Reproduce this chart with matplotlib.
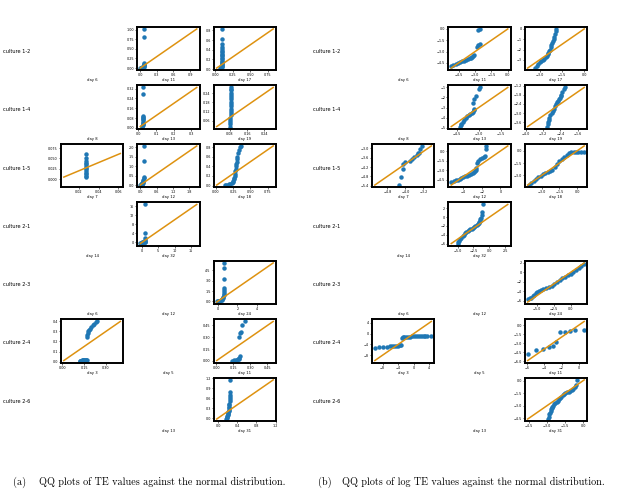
import matplotlib
matplotlib.use('Agg')
import matplotlib.pyplot as plt
from matplotlib.ticker import MaxNLocator

# Названия культур (строки) и дни (колонки) для обеих панелей
cultures = ['culture 1-2', 'culture 1-4', 'culture 1-5', 'culture 2-1',
            'culture 2-3', 'culture 2-4', 'culture 2-6']
day_labels = [['day 6', 'day 11', 'day 17'],
              ['day 8', 'day 13', 'day 19'],
              ['day 7', 'day 12', 'day 18'],
              ['day 14', 'day 32', None],
              ['day 6', 'day 12', 'day 24'],
              ['day 3', 'day 5', 'day 11'],
              [None, 'day 13', 'day 31']]

# ---- (a) TE values: theoretical (x) vs sample (y) quantiles ----
te_12_d11_x = [0.00, 0.01, 0.02, 0.03, 0.04, 0.05, 0.06, 0.06, 0.07, 0.07, 0.07, 0.07, 0.07, 0.07]
te_12_d11_y = [0.00, 0.00, 0.01, 0.01, 0.02, 0.02, 0.03, 0.05, 0.07, 0.09, 0.11, 0.13, 0.80, 1.02]

te_12_d17_x = [0.07, 0.08, 0.08, 0.09, 0.09, 0.09, 0.09, 0.09, 0.09, 0.09, 0.09, 0.09, 0.09, 0.09,
               0.09, 0.09, 0.09, 0.09, 0.09, 0.09, 0.09, 0.09]
te_12_d17_y = [0.02, 0.03, 0.04, 0.05, 0.07, 0.09, 0.11, 0.13, 0.15, 0.17, 0.20, 0.23, 0.26, 0.29,
               0.32, 0.35, 0.38, 0.42, 0.46, 0.52, 0.63, 0.83]

te_14_d13_x = [0.020, 0.022, 0.024, 0.025, 0.025, 0.025, 0.025, 0.025, 0.025, 0.025, 0.025, 0.025, 0.025]
te_14_d13_y = [0.010, 0.015, 0.020, 0.030, 0.040, 0.050, 0.060, 0.070, 0.080, 0.090, 0.100, 0.280, 0.330]

te_14_d19_x = [0.082, 0.082, 0.083, 0.083, 0.083, 0.084, 0.084, 0.084, 0.085, 0.085, 0.085, 0.086,
               0.086, 0.086, 0.087, 0.087, 0.087, 0.088, 0.088]
te_14_d19_y = [0.020, 0.035, 0.050, 0.065, 0.080, 0.095, 0.110, 0.125, 0.140, 0.155, 0.170, 0.185,
               0.200, 0.215, 0.230, 0.245, 0.260, 0.270, 0.280]

te_15_d7_x = [0.027, 0.027, 0.027, 0.027, 0.027, 0.027, 0.027, 0.027, 0.027, 0.027, 0.027, 0.027, 0.027]
te_15_d7_y = [0.005, 0.008, 0.012, 0.016, 0.020, 0.024, 0.028, 0.032, 0.036, 0.038, 0.045, 0.052, 0.062]

te_15_d12_x = [0.00, 0.01, 0.02, 0.03, 0.04, 0.05, 0.06, 0.07, 0.08, 0.09, 0.10, 0.11, 0.11, 0.12,
               0.12, 0.12, 0.12]
te_15_d12_y = [0.00, 0.00, 0.01, 0.02, 0.03, 0.04, 0.05, 0.07, 0.09, 0.12, 0.16, 0.20, 0.27, 0.35,
               0.45, 1.27, 2.08]

te_15_d18_x = [0.13, 0.15, 0.17, 0.19, 0.21, 0.23, 0.24, 0.25, 0.26, 0.265, 0.27, 0.275, 0.28,
               0.285, 0.29, 0.295, 0.30, 0.305, 0.31, 0.32, 0.33, 0.35, 0.37]
te_15_d18_y = [0.01, 0.015, 0.02, 0.03, 0.04, 0.06, 0.08, 0.10, 0.13, 0.16, 0.20, 0.25, 0.30,
               0.35, 0.40, 0.45, 0.50, 0.55, 0.60, 0.68, 0.75, 0.80, 0.83]

te_21_d32_x = [-0.5, -0.3, 0.0, 0.2, 0.4, 0.6, 0.8, 0.9, 1.0, 1.0, 1.0, 1.0, 1.0]
te_21_d32_y = [-0.3, -0.1, 0.0, 0.0, 0.05, 0.1, 0.2, 0.4, 0.7, 1.2, 1.8, 4.0, 16.8]

te_23_d24_x = [-0.1, 0.0, 0.1, 0.2, 0.3, 0.4, 0.45, 0.5, 0.55, 0.6, 0.6, 0.62, 0.64, 0.65, 0.6, 0.62, 0.65]
te_23_d24_y = [0.0, 0.0, 0.05, 0.1, 0.15, 0.2, 0.35, 0.5, 0.7, 0.9, 1.1, 1.4, 1.7, 2.0, 3.3, 4.8, 5.6]

te_24_d3_x = [0.12, 0.125, 0.13, 0.135, 0.14, 0.145, 0.15, 0.155, 0.16, 0.165, 0.17,
              0.17, 0.172, 0.175, 0.18, 0.185, 0.19, 0.20, 0.21, 0.22, 0.23, 0.24]
te_24_d3_y = [0.010, 0.010, 0.010, 0.011, 0.011, 0.012, 0.012, 0.013, 0.013, 0.014, 0.015,
              0.24, 0.26, 0.28, 0.30, 0.31, 0.32, 0.34, 0.36, 0.37, 0.39, 0.40]

te_24_d11_x = [0.14, 0.16, 0.17, 0.18, 0.19, 0.20, 0.20, 0.21, 0.20, 0.21, 0.22, 0.23, 0.25]
te_24_d11_y = [0.005, 0.01, 0.012, 0.015, 0.02, 0.03, 0.04, 0.06, 0.30, 0.35, 0.37, 0.46, 0.50]

te_26_d31_x = [0.17, 0.18, 0.19, 0.195, 0.20, 0.205, 0.21, 0.215, 0.22, 0.22, 0.225, 0.23, 0.23,
               0.235, 0.24, 0.24, 0.245, 0.25, 0.25, 0.25]
te_26_d31_y = [-0.03, 0.00, 0.03, 0.06, 0.09, 0.12, 0.15, 0.18, 0.21, 0.25, 0.29, 0.33, 0.38,
               0.43, 0.50, 0.56, 0.63, 0.70, 0.78, 1.15]

# ---- (b) log TE values ----
log_12_d11_x = [-5.2, -5.0, -4.8, -4.6, -4.4, -4.2, -4.0, -3.8, -3.7, -3.5, -3.4, -3.3, -3.2, -3.1,
                -2.8, -2.7, -2.6, -2.7, -2.6]
log_12_d11_y = [-4.9, -4.8, -4.7, -4.55, -4.4, -4.3, -4.2, -4.1, -4.0, -3.9, -3.8, -3.7, -3.6, -3.4,
                -2.4, -2.2, -2.0, -0.2, 0.0]

log_12_d17_x = [-3.3, -3.2, -3.1, -3.0, -2.9, -2.8, -2.7, -2.6, -2.5, -2.45, -2.4, -2.35, -2.3,
                -2.25, -2.2, -2.15, -2.1, -2.05, -2.0, -1.95, -1.9, -1.88]
log_12_d17_y = [-3.8, -3.6, -3.4, -3.25, -3.1, -3.0, -2.9, -2.75, -2.6, -2.45, -2.3, -2.15, -2.0,
                -1.8, -1.6, -1.4, -1.2, -1.0, -0.8, -0.5, -0.2, 0.0]

log_14_d13_x = [-4.3, -4.25, -4.2, -4.1, -4.0, -3.9, -3.8, -3.7, -3.6, -3.5, -3.4, -3.35, -3.3,
                -3.4, -3.3, -3.2, -3.0, -2.95]
log_14_d13_y = [-4.9, -4.75, -4.6, -4.4, -4.2, -4.0, -3.85, -3.7, -3.6, -3.5, -3.4, -3.25, -3.1,
                -2.6, -2.2, -1.9, -1.2, -1.0]

log_14_d19_x = [-3.0, -2.97, -2.95, -2.92, -2.9, -2.85, -2.8, -2.75, -2.7, -2.65, -2.6, -2.55,
                -2.5, -2.45, -2.4, -2.37, -2.35, -2.3, -2.25, -2.2]
log_14_d19_y = [-3.9, -3.75, -3.6, -3.45, -3.3, -3.15, -3.0, -2.85, -2.7, -2.55, -2.4, -2.3,
                -2.2, -2.1, -2.0, -1.9, -1.8, -1.6, -1.4, -1.3]

log_15_d7_x = [-4.3, -4.2, -4.1, -4.1, -4.0, -3.8, -3.7, -3.6, -3.5, -3.45, -3.4, -3.35, -3.25]
log_15_d7_y = [-5.35, -4.85, -4.3, -4.0, -3.9, -3.8, -3.7, -3.55, -3.4, -3.3, -3.3, -3.05, -2.85]

log_15_d12_x = [-5.3, -5.0, -4.8, -4.6, -4.4, -4.2, -4.0, -3.8, -3.6, -3.4, -3.2, -3.0, -2.8,
                -2.7, -2.6, -2.6, -2.55, -2.4, -2.2, -2.0, -1.8, -1.7, -1.6, -1.5]
log_15_d12_y = [-4.8, -4.65, -4.55, -4.45, -4.35, -4.2, -4.1, -3.95, -3.85, -3.7, -3.55, -3.4, -3.2,
                -3.1, -2.9, -2.6, -1.8, -1.5, -1.3, -1.1, -0.9, -0.7, 0.4, 0.8]

log_15_d18_x = [-4.1, -3.9, -3.7, -3.5, -3.3, -3.1, -2.9, -2.7, -2.5, -2.3, -2.1, -1.9, -1.7,
                -1.5, -1.3, -1.1, -0.9, -0.7, -0.5, -0.3, -0.1, 0.1, 0.3, 0.6]
log_15_d18_y = [-4.2, -3.95, -3.65, -3.4, -3.25, -3.05, -2.9, -2.75, -2.6, -2.45, -2.3, -2.0, -1.65,
                -1.3, -1.0, -0.75, -0.5, -0.3, -0.15, -0.12, -0.12, -0.12, -0.12, -0.12]

log_21_d32_x = [-5.0, -4.9, -4.8, -4.6, -4.4, -4.2, -4.0, -3.8, -3.6, -3.4, -3.2, -3.0, -2.8,
                -2.6, -2.4, -2.2, -2.0, -1.8, -1.7, -1.6, -1.5, -1.4, -1.3, -1.2, -1.1, -1.05]
log_21_d32_y = [-6.0, -5.7, -5.4, -5.0, -4.7, -4.35, -4.0, -3.7, -3.45, -3.2, -3.0, -2.8, -2.6,
                -2.45, -2.25, -2.05, -1.8, -1.55, -1.3, -1.05, -0.8, -0.5, -0.2, 0.5, 1.2, 2.9]

log_23_d24_x = [-6.3, -6.0, -5.8, -5.5, -5.3, -5.1, -4.9, -4.6, -4.3, -4.0, -3.6, -3.2, -2.8,
                -2.4, -2.0, -1.6, -1.2, -0.8, -0.4, 0.0, 0.4, 0.8, 1.2, 1.6, 2.0]
log_23_d24_y = [-5.6, -5.5, -5.4, -5.1, -4.8, -4.4, -4.1, -3.85, -3.65, -3.5, -3.25, -3.0, -2.8,
                -2.45, -2.05, -1.65, -1.25, -0.9, -0.6, -0.3, 0.1, 0.5, 0.9, 1.3, 1.7]

log_24_d3_x = [-10.0, -9.0, -8.0, -7.0, -6.0, -5.5, -5.0, -4.5, -4.0, -3.5, -3.2,
               -3.0, -2.8, -2.5, -2.0, -1.5, -1.0, -0.5, 0.0, 0.5, 1.0, 1.5, 2.0, 2.5, 3.0, 3.5, 4.5]
log_24_d3_y = [-5.2, -5.0, -4.9, -4.8, -4.7, -4.65, -4.6, -4.55, -4.5, -4.4, -4.3,
               -1.5, -1.3, -1.25, -1.2, -1.15, -1.1, -1.08, -1.05, -1.03, -1.0, -1.0, -1.0, -0.98,
               -0.95, -0.93, -0.9]

log_24_d11_x = [-5.9, -4.9, -4.1, -3.5, -3.0, -2.6, -2.2, -1.6, -1.0, -0.4, 0.6]
log_24_d11_y = [-4.8, -4.2, -4.0, -3.6, -3.5, -2.8, -1.2, -1.1, -1.0, -0.85, -0.75]

log_26_d31_x = [-2.9, -2.85, -2.8, -2.75, -2.7, -2.65, -2.6, -2.55, -2.5, -2.4, -2.3, -2.2, -2.1,
                -2.0, -1.9, -1.8, -1.7, -1.6, -1.5, -1.35, -1.2, -1.05, -0.9, -0.8, -0.7, -0.6, -0.5]
log_26_d31_y = [-4.6, -4.3, -4.05, -3.85, -3.65, -3.45, -3.3, -3.15, -3.0, -2.85, -2.7, -2.55, -2.4,
                -2.25, -2.05, -1.9, -1.75, -1.6, -1.5, -1.4, -1.3, -1.2, -1.1, -0.95, -0.8, -0.5, 0.1]

te_data = {(0, 1): (te_12_d11_x, te_12_d11_y), (0, 2): (te_12_d17_x, te_12_d17_y),
           (1, 1): (te_14_d13_x, te_14_d13_y), (1, 2): (te_14_d19_x, te_14_d19_y),
           (2, 0): (te_15_d7_x, te_15_d7_y), (2, 1): (te_15_d12_x, te_15_d12_y),
           (2, 2): (te_15_d18_x, te_15_d18_y), (3, 1): (te_21_d32_x, te_21_d32_y),
           (4, 2): (te_23_d24_x, te_23_d24_y), (5, 0): (te_24_d3_x, te_24_d3_y),
           (5, 2): (te_24_d11_x, te_24_d11_y), (6, 2): (te_26_d31_x, te_26_d31_y)}
log_data = {(0, 1): (log_12_d11_x, log_12_d11_y), (0, 2): (log_12_d17_x, log_12_d17_y),
            (1, 1): (log_14_d13_x, log_14_d13_y), (1, 2): (log_14_d19_x, log_14_d19_y),
            (2, 0): (log_15_d7_x, log_15_d7_y), (2, 1): (log_15_d12_x, log_15_d12_y),
            (2, 2): (log_15_d18_x, log_15_d18_y), (3, 1): (log_21_d32_x, log_21_d32_y),
            (4, 2): (log_23_d24_x, log_23_d24_y), (5, 0): (log_24_d3_x, log_24_d3_y),
            (5, 2): (log_24_d11_x, log_24_d11_y), (6, 2): (log_26_d31_x, log_26_d31_y)}
# в оригинале у графика day 7 (a) по оси y свой диапазон
te_ylims = {(2, 0): (-0.019, 0.085)}

captions = [('(a)', 'QQ plots of TE values against the normal distribution.'),
            ('(b)', 'QQ plots of log TE values against the normal distribution.')]

DOT = '#1f77b4'
LINE = '#de9210'
W, H = 617, 492

fig = plt.figure(figsize=(W / 100, H / 100), dpi=100)


def qq_plot(ax, x, y, ylim=None):
    ax.plot(x, y, '.', color=DOT, ms=4.4, zorder=2)
    lo = min(min(x), min(y))
    hi = max(max(x), max(y))
    ax.plot([lo, hi], [lo, hi], color=LINE, lw=1.1, zorder=3)
    ax.xaxis.set_major_locator(MaxNLocator(nbins=4))
    ax.yaxis.set_major_locator(MaxNLocator(nbins=5))
    if ylim is not None:
        ax.set_ylim(ylim)
    for s in ax.spines.values():
        s.set_linewidth(1.4)


def blank_plot(ax):
    # пустая ячейка: видна только подпись дня
    ax.set_xticks([0.5])
    ax.set_xticklabels(['0'])
    ax.set_yticks([])
    ax.tick_params(axis='x', colors='none')
    for s in ax.spines.values():
        s.set_visible(False)
    ax.patch.set_visible(False)


panels = [(61, 276, 3, te_data, te_ylims), (372, 587, 313, log_data, {})]
for left, right, label_x, data, ylims in panels:
    gs = fig.add_gridspec(7, 3, left=left / W, right=right / W,
                          top=1 - 27 / H, bottom=1 - 421 / H,
                          wspace=0.23, hspace=0.36)
    for r in range(7):
        for c in range(3):
            lab = day_labels[r][c]
            if lab is None:
                continue
            ax = fig.add_subplot(gs[r, c])
            if (r, c) in data:
                x, y = data[(r, c)]
                qq_plot(ax, x, y, ylims.get((r, c)))
            else:
                blank_plot(ax)
            ax.tick_params(labelsize=2.4, length=1.5, width=0.4, pad=0.8)
            ax.set_xlabel(lab, fontsize=2.7, labelpad=0.8)
        row_y = 27 + r * 58.3 + 21.5 + 3
        fig.text(label_x / W, 1 - row_y / H, cultures[r], fontsize=3.6,
                 ha='left', va='center')

# Подписи под панелями
for (tag, text), x_tag, x_text in zip(captions, [13, 318], [39, 342]):
    fig.text(x_tag / W, 1 - 482 / H, tag, fontsize=7.3, family='cmr10',
             ha='left', va='center')
    fig.text(x_text / W, 1 - 482 / H, text, fontsize=7.3, family='cmr10',
             ha='left', va='center')

fig.savefig('out.png', dpi=100)
